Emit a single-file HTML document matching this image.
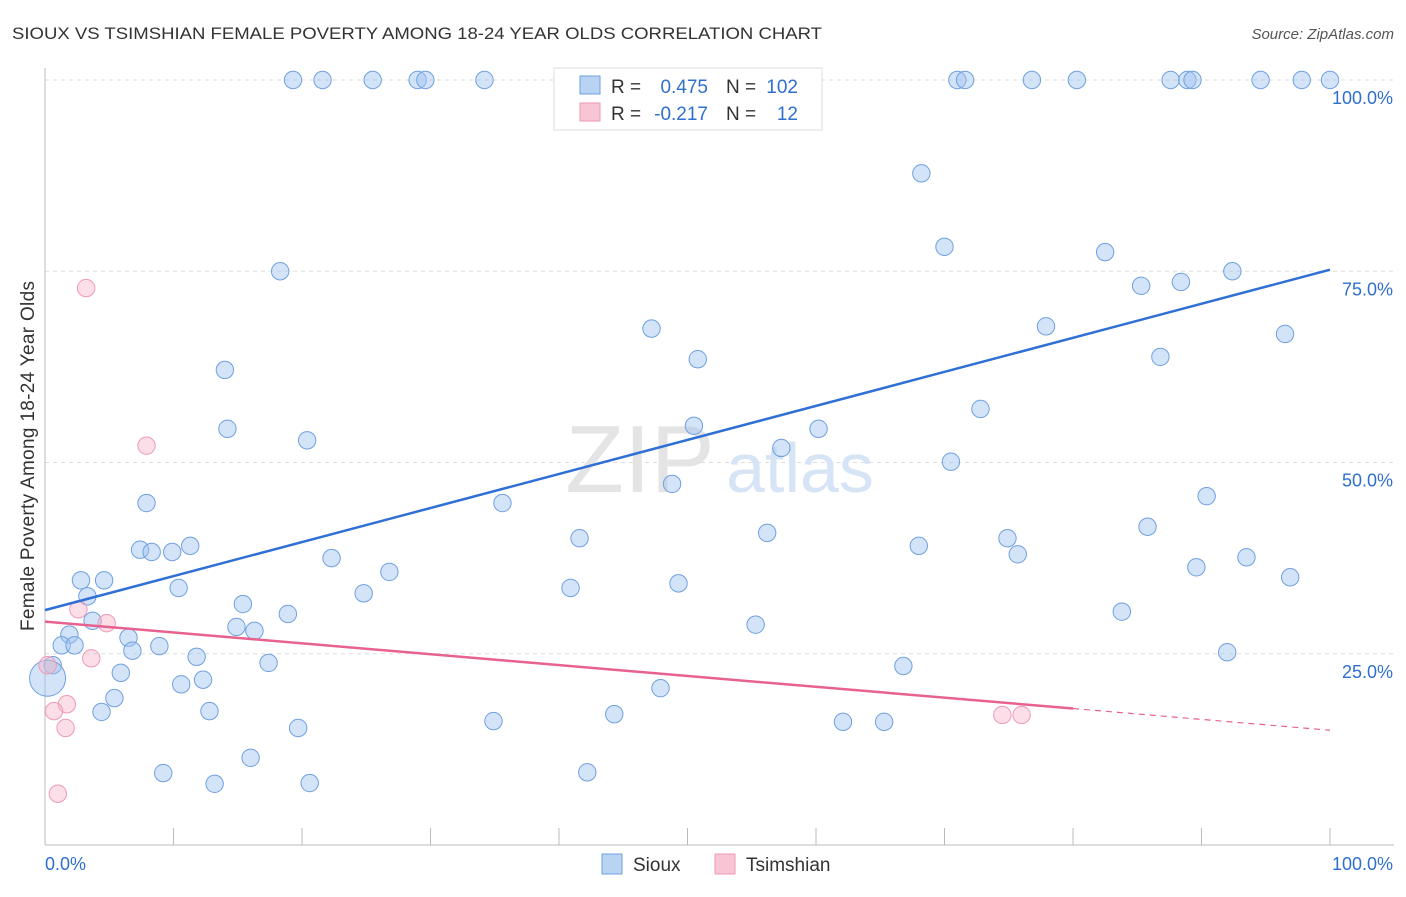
<!DOCTYPE html>
<html><head><meta charset="utf-8"><style>
body{margin:0;background:#fff;font-family:"Liberation Sans",sans-serif}
svg text{font-family:"Liberation Sans",sans-serif}
</style></head><body>
<svg id="chart" width="1406" height="892" xmlns="http://www.w3.org/2000/svg">
<text x="12" y="39" font-size="17" fill="#333" textLength="810" lengthAdjust="spacingAndGlyphs">SIOUX VS TSIMSHIAN FEMALE POVERTY AMONG 18-24 YEAR OLDS CORRELATION CHART</text>
<text x="1394" y="39" font-size="15" fill="#555" font-style="italic" text-anchor="end">Source: ZipAtlas.com</text>
<text x="34" y="456" font-size="19" fill="#333" text-anchor="middle" textLength="350" transform="rotate(-90 34 456)">Female Poverty Among 18-24 Year Olds</text>
<g id="grid"></g>
<text x="640" y="492" font-size="96" fill="#e4e4e4" font-family="Liberation Serif" text-anchor="middle">ZIP</text>
<text x="800" y="492" font-size="70" fill="#d6e4f5" text-anchor="middle">atlas</text>
<g id="marks"></g>
<g>
<rect x="554" y="68" width="268" height="62" fill="#fff" stroke="#ddd"/>
<rect x="580" y="76" width="20" height="18" fill="#b9d3f3" stroke="#6fa0e0"/>
<rect x="580" y="103" width="20" height="18" fill="#f8c5d4" stroke="#ee9ab5"/>
<text x="611" y="93" font-size="19" fill="#333">R =</text>
<text x="708" y="93" font-size="19" fill="#2f6fce" text-anchor="end">0.475</text>
<text x="726" y="93" font-size="19" fill="#333">N =</text>
<text x="798" y="93" font-size="19" fill="#2f6fce" text-anchor="end">102</text>
<text x="611" y="120" font-size="19" fill="#333">R =</text>
<text x="708" y="120" font-size="19" fill="#2f6fce" text-anchor="end">-0.217</text>
<text x="726" y="120" font-size="19" fill="#333">N =</text>
<text x="798" y="120" font-size="19" fill="#2f6fce" text-anchor="end">12</text>
</g>
<g>
<rect x="602" y="854" width="20" height="20" fill="#b9d3f3" stroke="#6fa0e0"/>
<text x="633" y="871" font-size="19" fill="#333">Sioux</text>
<rect x="715" y="854" width="20" height="20" fill="#f8c5d4" stroke="#ee9ab5"/>
<text x="746" y="871" font-size="19" fill="#333">Tsimshian</text>
</g>
</svg>
<script>
const yTicks=[25,50,75,100];
const yTickLabels=["25.0%","50.0%","75.0%","100.0%"];
const xTickLabels=["0.0%","100.0%"];
const siouxX=[19.3,21.6,25.5,29.0,29.6,34.2,46.5,52.0,55.6,71.0,71.6,76.8,80.3,87.6,88.9,89.3,94.6,97.8,100,
68.2,70.0,82.5,85.3,88.4,92.4,18.3,96.5,77.9,47.2,50.8,86.8,14.0,72.8,14.2,20.4,50.5,60.2,57.3,70.5,48.8,90.4,7.9,35.6,85.8,56.2,41.6,74.9,68.0,75.7,11.3,7.4,8.3,9.9,93.5,22.3,89.6,26.8,2.8,4.6,96.9,49.3,10.4,40.9,24.8,3.3,15.4,83.8,18.9,3.7,14.9,16.3,55.3,1.9,6.5,1.3,2.3,8.9,6.8,92.0,11.8,17.4,0.6,66.8,5.9,12.3,10.6,47.9,5.4,4.4,12.8,44.3,34.9,62.1,65.3,19.7,16.0,9.2,42.2,13.2,20.6,0.2];
const siouxY=[100,100,100,100,100,100,100,100,100,100,100,100,100,100,100,100,100,100,100,
87.8,78.2,77.5,73.1,73.6,75.0,75.0,66.8,67.8,67.5,63.5,63.8,62.1,57.0,54.4,52.9,54.8,54.4,51.9,50.1,47.2,45.6,44.7,44.7,41.6,40.8,40.1,40.1,39.1,38.0,39.1,38.6,38.3,38.3,37.6,37.5,36.3,35.7,34.6,34.6,35.0,34.2,33.6,33.6,32.9,32.5,31.5,30.5,30.2,29.3,28.5,28.0,28.8,27.5,27.1,26.1,26.1,26.0,25.4,25.2,24.6,23.8,23.5,23.4,22.5,21.6,21.0,20.5,19.2,17.4,17.5,17.1,16.2,16.1,16.1,15.3,11.4,9.4,9.5,8.0,8.1,21.8];
const tsimX=[3.2,7.9,2.6,4.8,3.6,1.7,0.7,1.6,1.0,74.5,76.0,0.2];
const tsimY=[72.8,52.2,30.8,29.0,24.4,18.4,17.5,15.3,6.7,17.0,17.0,23.5];
const siouxTrend=[30.7,75.2];
const tsimTrend=[29.2,15.0];
const tsimSolidEnd=80;
const NS="http://www.w3.org/2000/svg";
const X0=45,X1=1330,Y0=845,Y100=80;
const sx=v=>X0+(X1-X0)*v/100;
const sy=v=>Y0-(Y0-Y100)*v/100;
function mk(t,a,p){const e=document.createElementNS(NS,t);for(const k in a)e.setAttribute(k,a[k]);p.appendChild(e);return e;}
const grid=document.getElementById('grid'),marks=document.getElementById('marks');
yTicks.forEach((t,i)=>{
 const l=mk('line',{x1:X0,x2:1394,y1:sy(t),y2:sy(t),stroke:'#ddd','stroke-dasharray':'4,4'},grid);
 
 
 const tx=mk('text',{x:1393,y:sy(t)+24,'font-size':18,fill:'#2f6fce','text-anchor':'end'},grid);
 tx.textContent=yTickLabels[i];
 
 
});
const ax=mk('line',{x1:X0,x2:1394,y1:Y0,y2:Y0,stroke:'#bbb'},grid);


const ay=mk('line',{x1:X0,x2:X0,y1:68,y2:Y0,stroke:'#bbb'},grid);


for(let i=1;i<=10;i++){
 const t=mk('line',{x1:sx(i*10),x2:sx(i*10),y1:828,y2:Y0,stroke:'#bbb'},grid);
 
 
}
[[0,'start',45],[100,'end',1393]].forEach((d,i)=>{
 const t=mk('text',{x:d[2],y:870,'font-size':18,fill:'#2f6fce','text-anchor':d[1]},grid);
 t.textContent=xTickLabels[i];
 
 
});
siouxX.forEach((v,i)=>{
 const big=i===siouxX.length-1;
 const c=mk('circle',{cx:sx(v),cy:sy(siouxY[i]),r:big?18:8.7,fill:'rgba(160,196,240,0.45)',stroke:'#6fa0e0','stroke-width':1},marks);
 
 
});
tsimX.forEach((v,i)=>{
 const c=mk('circle',{cx:sx(v),cy:sy(tsimY[i]),r:8.7,fill:'rgba(246,182,202,0.45)',stroke:'#ee9ab5','stroke-width':1},marks);
 
 
});
const sl=mk('line',{x1:sx(0),y1:sy(siouxTrend[0]),x2:sx(100),y2:sy(siouxTrend[1]),stroke:'#2f6fd6','stroke-width':2.5},marks);


const tm=tsimTrend[0]+(tsimTrend[1]-tsimTrend[0])*tsimSolidEnd/100;
const tl=mk('line',{x1:sx(0),y1:sy(tsimTrend[0]),x2:sx(tsimSolidEnd),y2:sy(tm),stroke:'#e8628f','stroke-width':2.5},marks);


const td=mk('line',{x1:sx(tsimSolidEnd),y1:sy(tm),x2:sx(100),y2:sy(tsimTrend[1]),stroke:'#e8628f','stroke-width':1.2,'stroke-dasharray':'6,5'},marks);


</script>
</body></html>
